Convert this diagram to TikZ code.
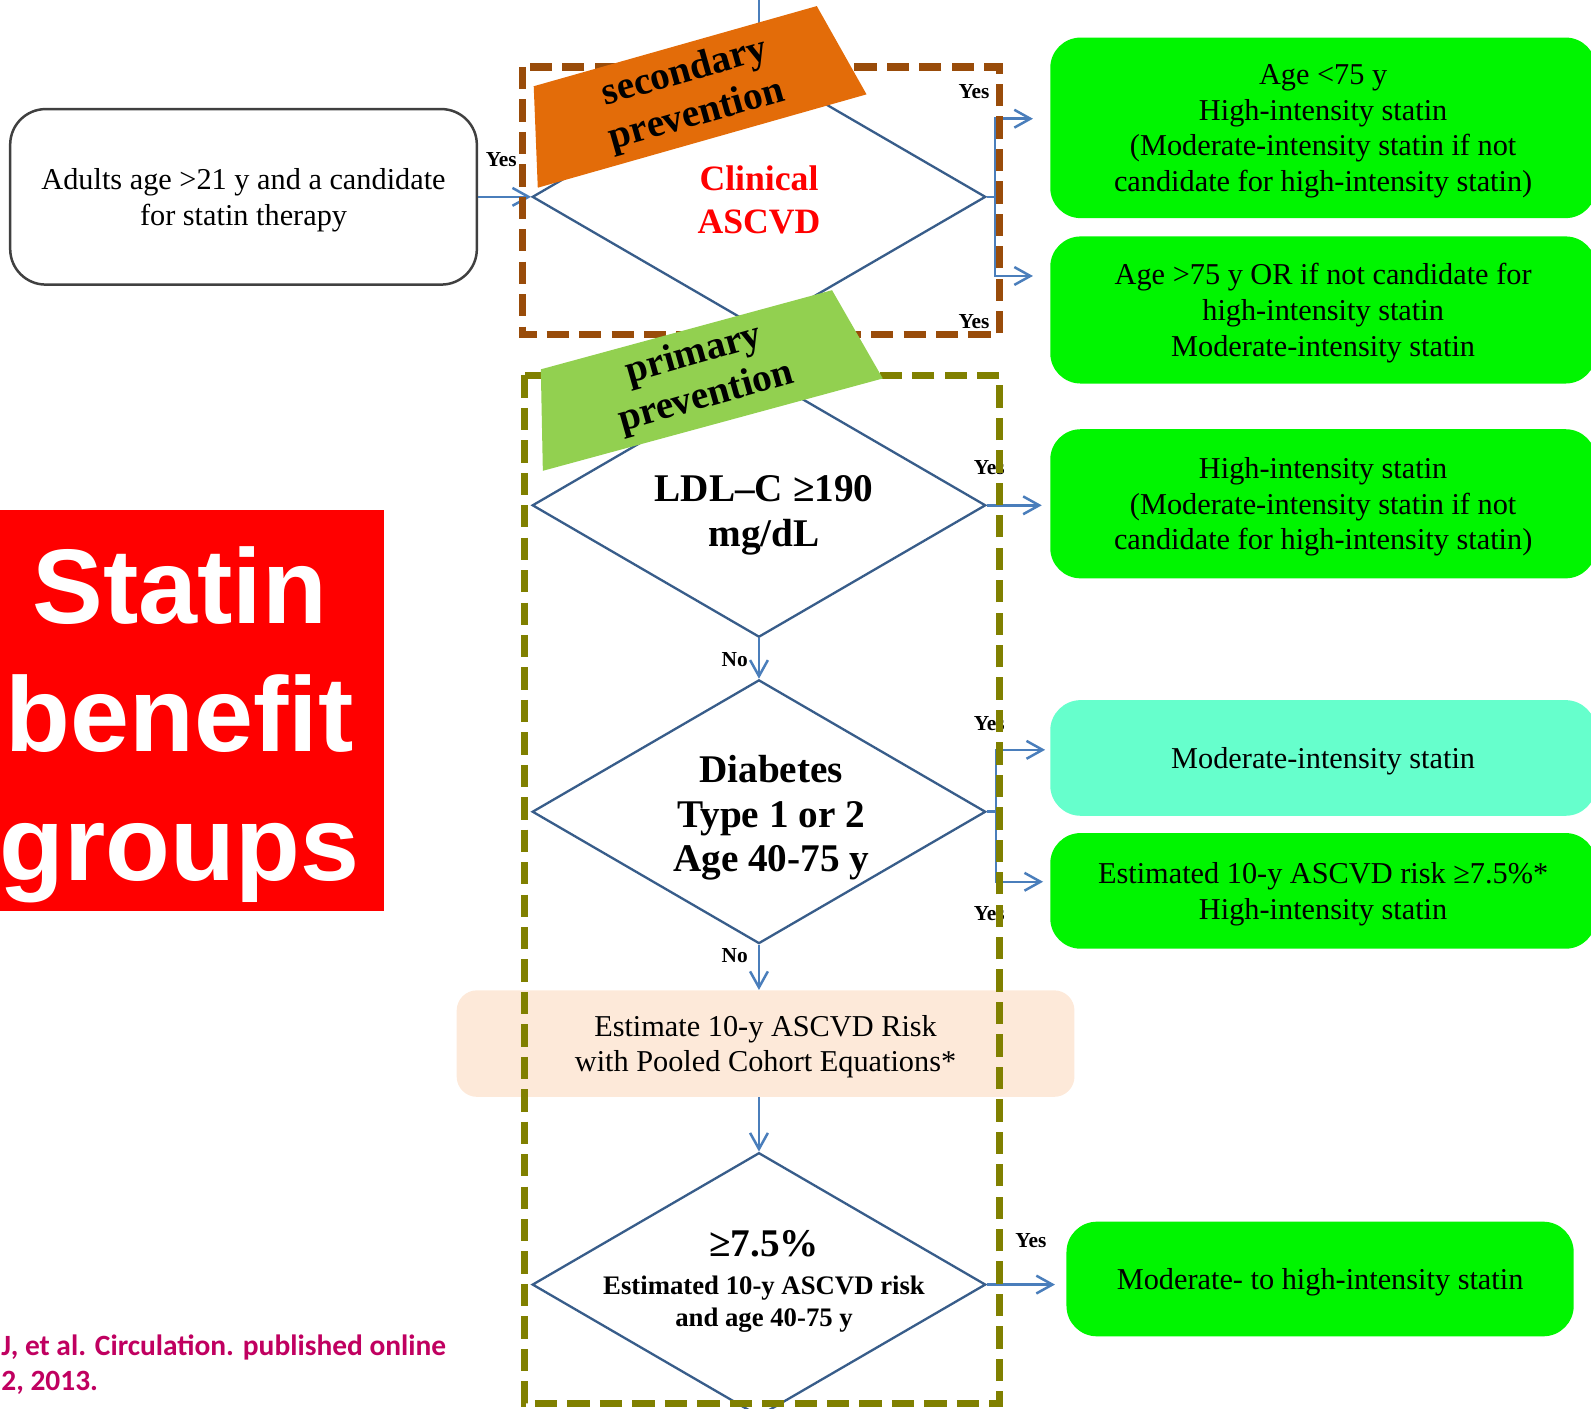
\documentclass[tikz,border=0pt]{standalone}
\usepackage{fontspec}
\setmainfont{Liberation Serif}
\newfontfamily\grpfont{Liberation Sans}
\newfontfamily\citefont{Carlito}
\usetikzlibrary{shapes.geometric, arrows.meta, calc}

\definecolor{diamondblue}{RGB}{56,93,138}
\definecolor{arrowblue}{RGB}{74,126,187}
\definecolor{adultgray}{RGB}{64,64,64}
\definecolor{secbrown}{RGB}{153,76,10}
\definecolor{primolive}{RGB}{128,128,0}
\definecolor{secorange}{RGB}{227,108,9}
\definecolor{primgreen}{RGB}{146,208,80}
\definecolor{statingreen}{RGB}{0,245,0}
\definecolor{statinaqua}{RGB}{102,255,204}
\definecolor{riskpeach}{RGB}{253,233,217}
\definecolor{citered}{RGB}{192,0,96}

\tikzset{
  decision/.style={diamond, draw=diamondblue, line width=1.3pt,
    minimum width=8.94cm, minimum height=5.2cm, inner sep=0pt},
  question/.style={align=center, font=\bfseries\fontsize{22}{25}\selectfont},
  result/.style={rounded corners=0.6cm, fill=statingreen, minimum width=10.76cm,
    align=center, text depth=0pt, font=\fontsize{17}{20}\selectfont},
  flow/.style={arrowblue, line width=1.4pt, -{Straight Barb[length=9pt,width=10pt]}},
  answer/.style={font=\bfseries\fontsize{12}{14}\selectfont},
  zone/.style={line width=4pt, dash pattern=on 12.5pt off 5.7pt},
  banner/.style={rotate=15.8, align=center, font=\bfseries\fontsize{22}{25}\selectfont}
}

\begin{document}
\begin{tikzpicture}[x=0.02cm,y=-0.02cm]
\useasboundingbox (0,0) rectangle (1568,1388);
\clip (0,0) rectangle (1568,1388);

\node[decision] (clin) at (748,194) {};
\node[decision] (ldl) at (748,498) {};
\node[decision] (diab) at (748,800) {};
\node[decision] (pct) at (748,1266) {};
\node[question, text=red, font=\bfseries\fontsize{20}{24.4}\selectfont] (clintext) at (748,197) {Clinical\\ASCVD};
\node[question] (ldltext) at (753,508) {LDL–C ≥190\\mg/dL};
\node[question] (diabtext) at (760,806) {Diabetes\\Type 1 or 2\\Age 40-75 y};
\node[question, font=\bfseries\fontsize{15}{18}\selectfont] (pcttext) at (753,1263) {{\fontsize{22}{25}\selectfont ≥7.5\%}\\[3pt]Estimated 10-y ASCVD risk\\and age 40-75 y};

\node[draw=adultgray, line width=1.4pt, rounded corners=0.7cm, minimum width=9.2cm, minimum height=3.46cm,
  align=center, text depth=0pt, font=\fontsize{17}{20}\selectfont] (adult) at (240,194) {Adults age >21 y and a candidate\\for statin therapy};
\node[fill=riskpeach, rounded corners=0.4cm, minimum width=12.18cm, minimum height=2.1cm,
  align=center, text depth=0pt, font=\fontsize{17}{20}\selectfont] (risk) at (754.5,1028.5) {Estimate 10-y ASCVD Risk\\with Pooled Cohort Equations*};

\node[result, minimum height=3.56cm] (highyoung) at (1304,126) {Age <75 y\\High-intensity statin\\(Moderate-intensity statin if not\\candidate for high-intensity statin)};
\node[result, minimum height=2.9cm] (moderateold) at (1304,305.5) {Age >75 y OR if not candidate for\\high-intensity statin\\Moderate-intensity statin};
\node[result, minimum height=2.94cm] (highldl) at (1304,496.5) {High-intensity statin\\(Moderate-intensity statin if not\\candidate for high-intensity statin)};
\node[result, fill=statinaqua, minimum height=2.28cm] (moderatediab) at (1304,747) {Moderate-intensity statin};
\node[result, minimum height=2.28cm] (highdiab) at (1304,878) {Estimated 10-y ASCVD risk ≥7.5\%*\\High-intensity statin};
\node[result, minimum width=10cm, minimum height=2.26cm] (moderatehigh) at (1301,1260.5) {Moderate- to high-intensity statin};

\coordinate (entry) at (748,0);
\coordinate (young) at (1018,117);
\coordinate (old) at (1018,272);
\coordinate (diabmod) at (1030,739);
\coordinate (diabhigh) at (1028,869);

\draw[flow] (entry) -- (clin.north);
\draw[flow] (adult.east) -- (clin.west);
\draw[flow] (clin.east) -- ++(8,0) |- (young);
\draw[flow] (clin.east) -- ++(8,0) |- (old);
\draw[flow, shorten >=0.16cm] (ldl.east) -- (ldl.east -| highldl.west);
\draw[flow] (ldl.south) -- (diab.north);
\draw[flow] (diab.east) -- ++(9,0) |- (diabmod);
\draw[flow] (diab.east) -- ++(9,0) |- (diabhigh);
\draw[flow] (diab.south) -- (diab.south |- risk.north);
\draw[flow] (pct.north |- risk.south) -- (pct.north);
\draw[flow, shorten >=0.22cm] (pct.east) -- (pct.east -| moderatehigh.west);

\node[answer] (yesadult) at (494,157) {Yes};
\node[answer] (yesyoung) at (960,90) {Yes};
\node[answer] (yesold) at (960,317) {Yes};
\node[answer] (yesldl) at (975,461) {Yes};
\node[answer] (yesdiabmod) at (975,713) {Yes};
\node[answer] (yesdiabhigh) at (975,900) {Yes};
\node[answer] (yespct) at (1016,1223) {Yes};
\node[answer] (noldl) at (724,650) {No};
\node[answer] (nodiab) at (724,942) {No};

\draw[zone, secbrown] (515,66) rectangle (985,330);
\draw[zone, primolive] (517,370) rectangle (985,1383);

\fill[secorange] (526,85) -- (805,6) -- (854,93) -- (530,185) -- cycle;
\node[banner] (secondary) at (681,93) {secondary\\prevention};
\fill[primgreen] (533,364) -- (820,286) -- (870,373) -- (535,464) -- cycle;
\node[banner] (primary) at (690,371) {primary\\prevention};

\fill[red] (0,503) rectangle (378,898);
\node[text=white, align=center, font=\grpfont\bfseries\fontsize{59.5}{72}\selectfont] (groups) at (177,714) {Statin\\benefit\\groups};

\node[anchor=west, align=left, inner sep=0pt, text=citered,
  font=\citefont\bfseries\fontsize{16.5}{19.8}\selectfont] (cite) at (1,1345) {J, et al. Circulation. published online\\2, 2013.};
\end{tikzpicture}
\end{document}
